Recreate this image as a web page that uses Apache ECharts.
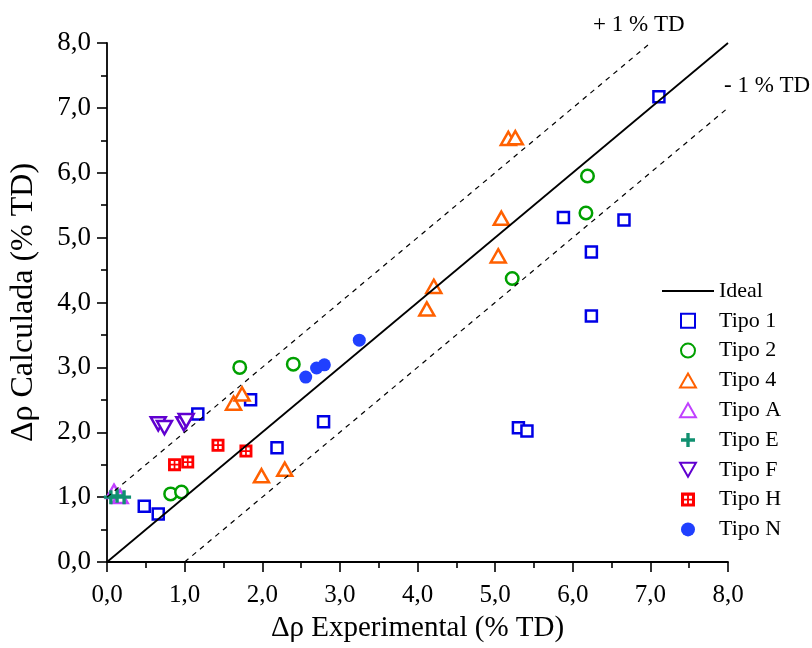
<!DOCTYPE html>
<html>
<head>
<meta charset="utf-8">
<script src="https://cdn.jsdelivr.net/npm/echarts@6/dist/echarts.min.js"></script>
<style>html,body{margin:0;padding:0;background:#fff}#c{width:812px;height:648px}</style>
</head>
<body>
<div id="c"></div>
<script>
var xTicks = [0, 1, 2, 3, 4, 5, 6, 7, 8];
var ideal = [[0, 0], [8, 8]];
var plus1 = [[0, 1], [7, 8]];
var minus1 = [[1, 0], [8, 7]];
var tipo1 = [[7.11, 7.17], [5.88, 5.31], [6.24, 4.78], [6.66, 5.27], [6.24, 3.79], [5.30, 2.07], [5.41, 2.02], [2.79, 2.16], [2.19, 1.76], [1.85, 2.50], [1.17, 2.28], [0.48, 0.86], [0.66, 0.74]];
var tipo2 = [[6.19, 5.95], [6.17, 5.38], [5.22, 4.37], [1.71, 3.00], [2.40, 3.05], [0.82, 1.05], [0.96, 1.08]];
var tipo4 = [[5.17, 6.53], [5.26, 6.54], [5.08, 5.30], [5.04, 4.72], [4.21, 4.25], [4.12, 3.90], [1.63, 2.45], [1.74, 2.59], [1.99, 1.33], [2.29, 1.43]];
var tipoA = [[0.09, 1.09], [0.17, 1.01]];
var tipoE = [[0.05, 1.0], [0.13, 1.02], [0.22, 1.0]];
var tipoF = [[0.66, 2.13], [0.74, 2.07], [0.99, 2.13], [1.02, 2.18]];
var tipoH = [[0.87, 1.50], [1.04, 1.54], [1.43, 1.80], [1.79, 1.71]];
var tipoN = [[2.56, 2.85], [2.70, 2.99], [2.80, 3.04], [3.25, 3.42]];

var FONT = 'Liberation Serif';
var chart = echarts.init(document.getElementById('c'), null, {renderer: 'canvas'});
function fmt(v) { return v.toFixed(1).replace('.', ','); }
var axisCommon = {
  type: 'value', min: 0, max: 8, interval: 1,
  splitLine: {show: false},
  axisLine: {show: true, onZero: false, lineStyle: {color: '#000', width: 1.8}},
  axisTick: {show: true, inside: false, length: 10, lineStyle: {color: '#000', width: 1.6}},
  minorTick: {show: true, splitNumber: 2, length: 6, lineStyle: {color: '#000', width: 1.6}},
  minorSplitLine: {show: false},
  nameLocation: 'middle'
};
function sc(name, data, symbol, size, color, filled) {
  return {
    name: name, type: 'scatter', data: data, symbol: symbol, symbolSize: size, symbolKeepAspect: true,
    itemStyle: filled ? {color: color, borderWidth: 0, opacity: 1} : {color: '#fff', borderColor: color, borderWidth: 2.5, opacity: 1},
    emphasis: {disabled: true}
  };
}
var squareP = 'path://M0,0H10V10H0Z';
var triP = 'path://M5,0L10,8.8L0,8.8Z';
var downTri = 'path://M0,0L10,0L5,8.8Z';
var rectH = 'path://M0,0H12V12H0Z M2.6,2.6V5.2H5.2V2.6Z M6.8,2.6V5.2H9.4V2.6Z M2.6,6.8V9.4H5.2V6.8Z M6.8,6.8V9.4H9.4V6.8Z';
var plusP = 'path://M3.8,0H6.2V3.8H10V6.2H6.2V10H3.8V6.2H0V3.8H3.8Z';
chart.setOption({
  animation: false,
  backgroundColor: '#fff',
  grid: {left: 106, right: 84, top: 43, bottom: 84, containLabel: false},
  xAxis: Object.assign({}, axisCommon, {
    name: 'Δρ Experimental (% TD)', nameGap: 52,
    nameTextStyle: {fontFamily: FONT, fontSize: 29, color: '#000'},
    axisLabel: {margin: 21, fontFamily: FONT, fontSize: 25, color: '#000', formatter: fmt}
  }),
  yAxis: Object.assign({}, axisCommon, {
    name: 'Δρ Calculada (% TD)', nameGap: 67,
    nameTextStyle: {fontFamily: FONT, fontSize: 32, color: '#000'},
    axisLabel: {margin: 16, fontFamily: FONT, fontSize: 27, color: '#000', formatter: fmt}
  }),
  legend: {
    orient: 'vertical', left: 661, top: 280, padding: 0,
    itemWidth: 52, itemHeight: 14, itemGap: 7.8,
    textStyle: {fontFamily: FONT, fontSize: 22, color: '#000'},
    data: ['Ideal', 'Tipo 1', 'Tipo 2', 'Tipo 4', 'Tipo A', 'Tipo E', 'Tipo F', 'Tipo H', 'Tipo N'],
    selectedMode: false
  },
  graphic: [
    {type: 'text', left: 593, top: 13, style: {text: '+ 1 % TD', fontFamily: FONT, fontSize: 23, fill: '#000'}},
    {type: 'text', left: 724, top: 74, style: {text: '- 1 % TD', fontFamily: FONT, fontSize: 23, fill: '#000'}}
  ],
  series: [
    {name: 'Ideal', type: 'line', data: ideal, symbol: 'none', lineStyle: {color: '#000', width: 1.8}, itemStyle: {color: 'rgba(0,0,0,0)', borderWidth: 0}, emphasis: {disabled: true}},
    {name: 'plus1', type: 'line', data: plus1, symbol: 'none', lineStyle: {color: '#000', width: 1.2, type: [5, 5]}, emphasis: {disabled: true}},
    {name: 'minus1', type: 'line', data: minus1, symbol: 'none', lineStyle: {color: '#000', width: 1.2, type: [5, 5]}, emphasis: {disabled: true}},
    sc('Tipo 1', tipo1, squareP, 11, '#0000e6', false),
    sc('Tipo 2', tipo2, 'circle', 12.5, '#00a000', false),
    sc('Tipo 4', tipo4, triP, 15, '#ff6000', false),
    sc('Tipo A', tipoA, triP, 15, '#c040ff', false),
    sc('Tipo E', tipoE, plusP, 14, '#109070', true),
    sc('Tipo F', tipoF, downTri, 15, '#6000d0', false),
    sc('Tipo H', tipoH, rectH, 13, '#ff0000', true),
    sc('Tipo N', tipoN, 'circle', 13, '#2040ff', true)
  ]
});
</script>
</body>
</html>
